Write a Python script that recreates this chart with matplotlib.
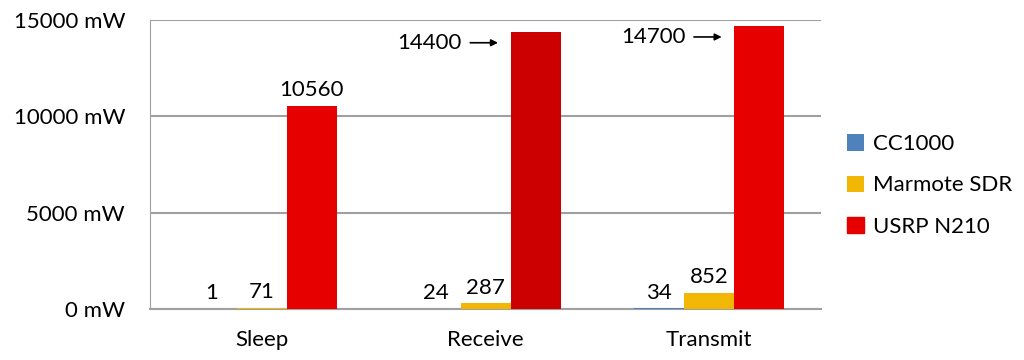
import matplotlib.pyplot as plt
import numpy as np

plt.rcParams['font.family'] = ['Lato', 'DejaVu Sans']

categories = ['Sleep', 'Receive', 'Transmit']
series = ['CC1000', 'Marmote SDR', 'USRP N210']
cc1000 = [1, 24, 34]
marmote = [71, 287, 852]
usrp = [10560, 14400, 14700]
yticks = [0, 5000, 10000, 15000]

colors = ['#4F81BD', '#F2B705', '#E60000']
usrp_colors = ['#E60000', '#CC0000', '#E60000']

fig = plt.figure(figsize=(10.24, 3.6), dpi=100)
ax = fig.add_axes([0.1465, 0.1417, 0.8018 - 0.1465, 0.9444 - 0.1417])

x = np.arange(len(categories))
w = 0.2235
b1 = ax.bar(x - w, cc1000, w, color=colors[0], label=series[0], zorder=3)
b2 = ax.bar(x, marmote, w, color=colors[1], label=series[1], zorder=3)
b3 = ax.bar(x + w, usrp, w, color=usrp_colors, label=series[2], zorder=3)

fs = 16
for bars, vals in [(b1, cc1000), (b2, marmote)]:
    for r, v in zip(bars, vals):
        ax.annotate(str(v), (r.get_x() + r.get_width() / 2, r.get_height()),
                    xytext=(0, 4), textcoords='offset points',
                    ha='center', va='bottom', fontsize=fs)

# first USRP value sits above its bar, the other two are pointed at
r = b3[0]
ax.annotate(str(usrp[0]), (r.get_x() + r.get_width() / 2, r.get_height()),
            xytext=(0, 4), textcoords='offset points',
            ha='center', va='bottom', fontsize=fs)
for r, v in zip(b3[1:], usrp[1:]):
    ax.annotate('', xy=(r.get_x(), v - 580), xytext=(-29, 0),
                textcoords='offset points',
                arrowprops=dict(arrowstyle='-|>', color='black', lw=1.2,
                                mutation_scale=10, shrinkA=0, shrinkB=9))
    ax.annotate(str(v), xy=(r.get_x(), v - 580), xytext=(-35, 0),
                textcoords='offset points', ha='right', va='center',
                fontsize=fs)

ax.set_xlim(-0.5, 2.5)
ax.set_ylim(0, 15000)
ax.set_yticks(yticks)
ax.set_yticklabels([f'{t} mW' for t in yticks], fontsize=fs)
ax.set_xticks(x)
ax.set_xticklabels(categories, fontsize=fs)
ax.tick_params(length=0)
ax.tick_params(axis='x', pad=15)
ax.tick_params(axis='y', pad=18)

ax.yaxis.grid(True, color='#A0A0A0', lw=1.5, zorder=0)
for s in ['top', 'right']:
    ax.spines[s].set_visible(False)
ax.spines['left'].set_color('#A0A0A0')
ax.spines['bottom'].set_color('#A0A0A0')
ax.spines['bottom'].set_linewidth(1.5)

leg = fig.legend(handles=[b1, b2, b3], labels=series, loc='center left',
                 bbox_to_anchor=(0.808, 0.485), frameon=False, fontsize=fs,
                 handlelength=0.75, handleheight=0.75, handletextpad=0.4,
                 labelspacing=0.95)
leg.legend_handles[2].set_color(colors[2])

fig.savefig('out.png', dpi=100)
